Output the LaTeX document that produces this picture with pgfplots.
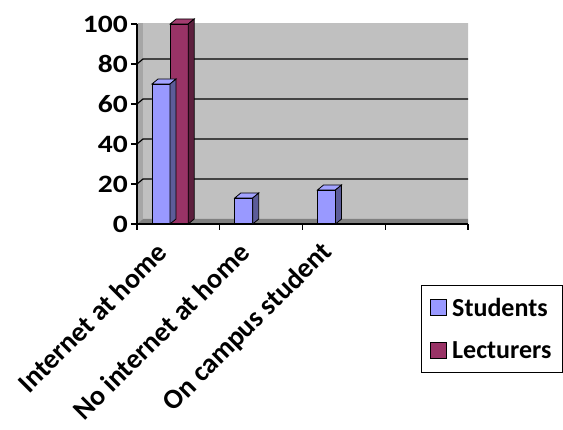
\documentclass[border=0pt]{standalone}
\usepackage{graphicx}
\usepackage{pgfplots}
\usepackage{pgfplotstable}
\pgfplotsset{compat=1.18}
\usepackage{fontspec}
\setmainfont{Carlito}

\definecolor{stud}{HTML}{9999FF}
\definecolor{studtop}{HTML}{A3A3FF}
\definecolor{studside}{HTML}{5C5C99}
\definecolor{lect}{HTML}{993366}
\definecolor{lecttop}{HTML}{A33D70}
\definecolor{lectside}{HTML}{5C1F3D}
\definecolor{wall}{HTML}{C0C0C0}
\definecolor{wallside}{HTML}{A6A6A6}
\definecolor{floorc}{HTML}{808080}

\newcommand\lblfont{\fontsize{26}{30}\selectfont\bfseries}
\newcommand\xlblfont{\fontsize{28}{32}\selectfont\bfseries}
\newcommand\ylblfont{\fontsize{25}{30}\selectfont\bfseries}

% top and side faces of a 3-D column; the mark sits at the top centre
% of the front face, \barh is the bar value (2pt per unit)
\newcommand\boxmark[2]{%
  \pgfmathsetlengthmacro\lo{(5-2*\barh)*1pt}%
  \pgfmathsetlengthmacro\bt{-2*\barh*1pt}%
  \filldraw[fill=#1, draw=black, line width=0.8pt]
    (-9pt,0pt) -- (9pt,0pt) -- (15pt,5pt) -- (-3pt,5pt) -- cycle;
  \filldraw[fill=#2, draw=black, line width=0.8pt]
    (9pt,0pt) -- (15pt,5pt) -- (15pt,\lo) -- (9pt,\bt) -- cycle;
}
\pgfdeclareplotmark{boxS}{\boxmark{studtop}{studside}}
\pgfdeclareplotmark{boxL}{\boxmark{lecttop}{lectside}}

\pgfplotstableread{
x     v
-0.21 70
0.79  13
1.79  17
}\students
\pgfplotstableread{
x    v
0.01 100
}\lecturers

\pgfplotsset{sqlegend/.style={legend image code/.code={%
  \draw[##1, draw=black, line width=1pt] (0pt,-8pt) rectangle (16pt,8pt);
  \path (19pt,0pt);}}}

\begin{document}
\begin{tikzpicture}
\path[use as bounding box] (-137pt,-206pt) rectangle (426pt,224pt);
\begin{axis}[
  at={(0pt,0pt)}, anchor=south west,
  scale only axis, width=331pt, height=200pt,
  xmin=-0.5, xmax=3.5, ymin=0, ymax=100,
  axis x line*=bottom, axis y line*=left,
  axis line style={black, line width=1.3pt},
  axis on top,
  ytick={0,20,...,100},
  xtick={0,1,2},
  xticklabels={Internet at home, No internet at home, On campus student},
  major x tick style={draw=none},
  minor xtick={-0.5,0.5,1.5,2.5,3.5},
  tick align=outside,
  major tick length=6pt, minor tick length=6pt,
  tick style={black, line width=1.2pt},
  /pgf/number format/assume math mode=true,
  yticklabel={\scalebox{1.18}[1]{\pgfmathprintnumber{\tick}}},
  yticklabel style={font=\ylblfont, inner sep=2pt, xshift=-1pt},
  xticklabel style={font=\xlblfont, rotate=45, anchor=east, inner sep=0pt,
    xshift=-24pt, yshift=-1pt},
  legend style={at={(1.287,-0.305)}, anchor=north east, draw=black,
    line width=1pt, font=\lblfont, row sep=20pt, inner xsep=9pt, inner ysep=10.5pt,
    cells={anchor=west}},
  legend cell align=left,
]
% back wall, side wall and floor of the 3-D box
\fill[wall] ([shift={(6pt,5pt)}]rel axis cs:0,0) rectangle ([shift={(6pt,5pt)}]rel axis cs:1,1);
\fill[wallside] (rel axis cs:0,0) -- ([shift={(6pt,5pt)}]rel axis cs:0,0)
  -- ([shift={(6pt,5pt)}]rel axis cs:0,1) -- (rel axis cs:0,1) -- cycle;
\draw[gray, line width=0.8pt] ([shift={(6pt,5pt)}]rel axis cs:0,1) -- ([shift={(6pt,5pt)}]rel axis cs:1,1)
  -- ([shift={(6pt,5pt)}]rel axis cs:1,0);
\pgfplotsinvokeforeach{20,40,60,80}{
  \draw[black, line width=1.2pt] (axis cs:-0.5,#1) -- ([shift={(6pt,5pt)}]axis cs:-0.5,#1)
    -- ([shift={(6pt,5pt)}]axis cs:3.5,#1);
}
\fill[floorc] (rel axis cs:0,0) -- (rel axis cs:1,0) -- ([shift={(6pt,5pt)}]rel axis cs:1,0)
  -- ([shift={(6pt,5pt)}]rel axis cs:0,0) -- cycle;

\addplot[ybar, bar width=18pt, bar shift=0pt, fill=stud, draw=black, line width=0.8pt, sqlegend]
  table[x=x, y=v] {\students};
\addlegendentry{Students}
\addplot[ybar, bar width=18pt, bar shift=0pt, fill=lect, draw=black, line width=0.8pt, sqlegend]
  table[x=x, y=v] {\lecturers};
\addlegendentry{Lecturers}

\addplot[only marks, mark=boxS, forget plot,
  visualization depends on={\thisrow{v} \as \barh}] table[x=x, y=v] {\students};
\addplot[only marks, mark=boxL, forget plot,
  visualization depends on={\thisrow{v} \as \barh}] table[x=x, y=v] {\lecturers};
\end{axis}
\end{tikzpicture}
\end{document}
